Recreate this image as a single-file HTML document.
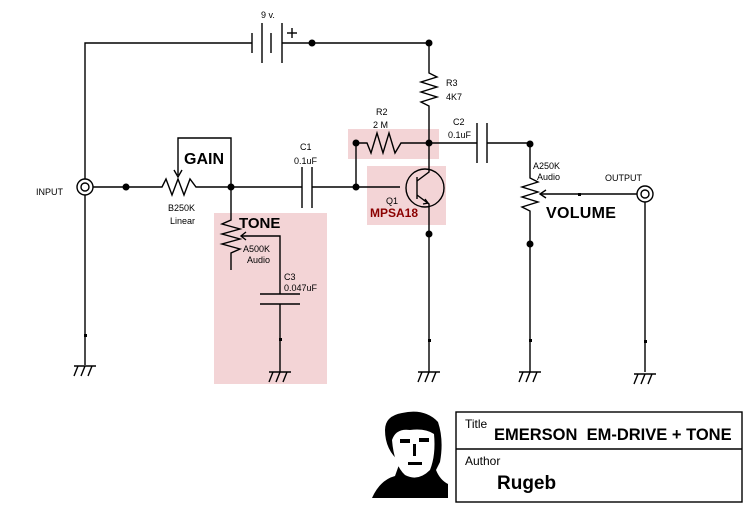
<!DOCTYPE html>
<html><head><style>
body{margin:0;background:#fff;}
svg{display:block;font-family:"Liberation Sans",sans-serif;}
</style></head><body>
<svg width="754" height="513" viewBox="0 0 754 513">
<rect x="214" y="213" width="113" height="171" fill="#f3d4d6"/>
<rect x="348" y="129" width="91" height="30" fill="#f3d4d6"/>
<rect x="367" y="166" width="79" height="59" fill="#f3d4d6"/>
<g stroke="#000" stroke-width="1.4" fill="none">
<polyline points="85,179 85,43 252,43"/>
<line x1="252" y1="33" x2="252" y2="53"/><line x1="262" y1="23" x2="262" y2="63"/>
<line x1="271" y1="33" x2="271" y2="53"/><line x1="282" y1="23" x2="282" y2="63"/>
<line x1="282" y1="43" x2="429" y2="43"/>
<line x1="287" y1="33" x2="297" y2="33"/><line x1="292" y1="28" x2="292" y2="38"/>
<polyline points="429,43 429,73 437,77 421,82 437,87 421,92 437,97 421,102 429,106 429,143"/>
<circle cx="85" cy="187" r="8"/><circle cx="85" cy="187" r="4"/>
<line x1="85" y1="195" x2="85" y2="365"/>
<polyline points="93,187 162,187 166,179 172,195 178,179 184,195 190,179 196,187 302,187"/>
<polyline points="178,175 178,138 231,138 231,187"/>
<polyline points="174,170 178,177 182,170"/>
<line x1="302" y1="167" x2="302" y2="208"/><line x1="312" y1="167" x2="312" y2="208"/>
<polyline points="312,187 400,187"/>
<polyline points="356,187 356,143 367,143 371,153 377,133 383,153 389,133 395,153 401,143 477,143"/>
<circle cx="425" cy="188" r="19"/>
<line x1="417" y1="177" x2="417" y2="199"/>
<polyline points="417,181 429,172 429,143"/>
<polyline points="417,195 429,204 429,372"/>
<polyline points="423,204 428,203 425,199"/>
<line x1="477" y1="123" x2="477" y2="163"/><line x1="487" y1="123" x2="487" y2="163"/>
<polyline points="487,143 530,143 530,178 538,182 522,187 538,192 522,197 538,202 522,207 530,211 530,372"/>
<line x1="541" y1="194" x2="637" y2="194"/>
<polyline points="546,190 540,194 546,198"/>
<circle cx="645" cy="194" r="8"/><circle cx="645" cy="194" r="4"/>
<line x1="645" y1="202" x2="645" y2="372"/>
<polyline points="231,187 231,220 222,224 240,229 222,234 240,239 222,244 240,249 231,253 231,270"/>
<polyline points="242,236 280,236 280,294"/>
<polyline points="246,232 241,236 246,240"/>
<line x1="260" y1="294" x2="300" y2="294"/><line x1="260" y1="304" x2="300" y2="304"/>
<line x1="280" y1="304" x2="280" y2="372"/>
<g id="g"><line x1="74" y1="366" x2="96" y2="366"/><line x1="78" y1="366" x2="74" y2="376"/><line x1="85" y1="366" x2="81" y2="376"/><line x1="92" y1="366" x2="88" y2="376"/></g>
<use href="#g" x="195" y="6"/><use href="#g" x="344" y="6"/><use href="#g" x="445" y="6"/><use href="#g" x="560" y="8"/>
<rect x="456" y="412" width="286" height="90"/>
<line x1="456" y1="449" x2="742" y2="449"/>
</g>
<g fill="#000">
<circle cx="312" cy="43" r="3.5"/><circle cx="429" cy="43" r="3.5"/>
<circle cx="126" cy="187" r="3.5"/><circle cx="231" cy="187" r="3.5"/>
<circle cx="356" cy="187" r="3.5"/><circle cx="356" cy="143" r="3.5"/>
<circle cx="429" cy="143" r="3.5"/><circle cx="429" cy="234" r="3.5"/>
<circle cx="530" cy="144" r="3.5"/><circle cx="530" cy="244" r="3.5"/>
<rect x="84" y="334" width="3" height="3"/><rect x="279" y="338" width="3" height="3"/>
<rect x="428" y="339" width="3" height="3"/><rect x="529" y="339" width="3" height="3"/><rect x="644" y="340" width="3" height="3"/>
<rect x="578" y="193" width="3" height="3"/>
</g>
<g font-size="9" fill="#000">
<text x="261" y="18">9 v.</text>
<text x="36" y="195">INPUT</text>
<text x="168" y="211">B250K</text><text x="170" y="224">Linear</text>
<text x="300" y="150">C1</text><text x="294" y="164">0.1uF</text>
<text x="376" y="115">R2</text><text x="373" y="128">2 M</text>
<text x="446" y="86">R3</text><text x="446" y="100">4K7</text>
<text x="453" y="125">C2</text><text x="448" y="138">0.1uF</text>
<text x="386" y="204">Q1</text>
<text x="533" y="169">A250K</text><text x="537" y="180">Audio</text>
<text x="605" y="181">OUTPUT</text>
<text x="243" y="252">A500K</text><text x="247" y="263">Audio</text>
<text x="284" y="280">C3</text><text x="284" y="291">0.047uF</text>
</g>
<g font-weight="bold" fill="#000">
<text x="184" y="164" font-size="16">GAIN</text>
<text x="239" y="228" font-size="15">TONE</text>
<text x="546" y="218" font-size="16" letter-spacing="0.3">VOLUME</text>
<text x="370" y="217" font-size="12" fill="#8b0000">MPSA18</text>
<text x="494" y="440" font-size="16.5">EMERSON&#160;&#160;EM-DRIVE + TONE</text>
<text x="497" y="489" font-size="19">Rugeb</text>
</g>
<text x="465" y="428" font-size="12">Title</text>
<text x="465" y="465" font-size="12">Author</text>
<path d="M372,498 Q380,480 395,476 L400,462 Q385,450 385,430 Q385,416 402,413 Q425,408 438,422 Q444,440 440,462 L436,470 Q440,480 448,484 L448,498 Z" fill="#000"/>
<path d="M392,440 Q396,428 410,430 Q425,428 434,434 Q436,455 430,470 Q418,482 405,475 Q394,465 392,440 Z" fill="#fff"/>
<g fill="#000"><rect x="400" y="439" width="10" height="4"/><rect x="419" y="438" width="10" height="4"/><rect x="408" y="462" width="14" height="3"/><rect x="413" y="444" width="3" height="12"/></g>
</svg>
</body></html>
